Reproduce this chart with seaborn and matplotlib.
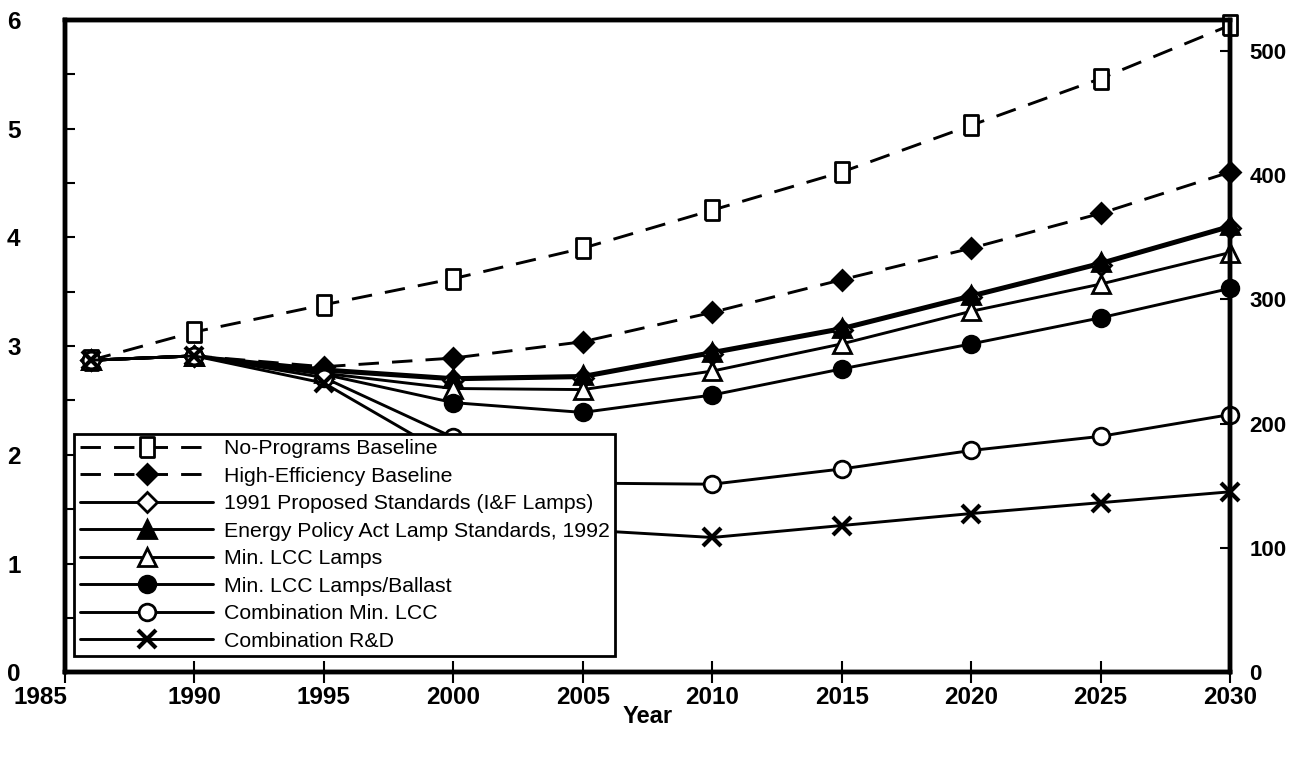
import matplotlib.pyplot as plt
from matplotlib.ticker import MultipleLocator
from matplotlib.transforms import ScaledTranslation
import seaborn as sns

# values (left axis units)
years = [1986, 1990, 1995, 2000, 2005, 2010, 2015, 2020, 2025, 2030]
no_programs = [2.87, 3.13, 3.38, 3.62, 3.90, 4.25, 4.60, 5.03, 5.46, 5.95]
high_eff = [2.87, 2.91, 2.81, 2.89, 3.04, 3.31, 3.61, 3.90, 4.22, 4.60]
proposed_1991 = [2.87, 2.91, 2.77, 2.69, 2.71, 2.93, 3.15, 3.45, 3.75, 4.09]
epact_1992 = [2.87, 2.91, 2.79, 2.71, 2.73, 2.95, 3.17, 3.47, 3.77, 4.11]
min_lcc_lamps = [2.87, 2.91, 2.75, 2.61, 2.60, 2.77, 3.02, 3.32, 3.57, 3.86]
min_lcc_ballast = [2.87, 2.91, 2.74, 2.48, 2.39, 2.55, 2.79, 3.02, 3.26, 3.53]
combo_min_lcc = [2.87, 2.91, 2.71, 2.16, 1.74, 1.73, 1.87, 2.04, 2.17, 2.37]
combo_rd = [2.87, 2.91, 2.66, 1.97, 1.31, 1.24, 1.35, 1.46, 1.56, 1.66]

labels = ["No-Programs Baseline", "High-Efficiency Baseline",
          "1991 Proposed Standards (I&F Lamps)",
          "Energy Policy Act Lamp Standards, 1992", "Min. LCC Lamps",
          "Min. LCC Lamps/Ballast", "Combination Min. LCC", "Combination R&D"]
series = [no_programs, high_eff, proposed_1991, epact_1992, min_lcc_lamps,
          min_lcc_ballast, combo_min_lcc, combo_rd]

right_ticks = [0, 100, 200, 300, 400, 500]

# tall box marker like the printed chart
tall_box = [(-0.38, -0.5), (0.38, -0.5), (0.38, 0.5), (-0.38, 0.5), (-0.38, -0.5)]

# marker, face colour, dashed?, marker size
styles = [(tall_box, "white", True, 14), ("D", "black", True, 10),
          ("D", "white", False, 10), ("^", "black", False, 13),
          ("^", "white", False, 13), ("o", "black", False, 12),
          ("o", "white", False, 12), ("x", "black", False, 13)]

sns.set_theme(style="white")
plt.rcParams['font.family'] = ['Liberation Sans', 'DejaVu Sans']
plt.rcParams['text.color'] = 'black'

fig = plt.figure(figsize=(12.89, 7.64), dpi=100)
ax = fig.add_axes([0.0504, 0.120, 0.9038, 0.854])

for vals, name, (mk, fc, dashed, ms) in zip(series, labels, styles):
    ls = (0, (7, 4.5)) if dashed else "-"
    sns.lineplot(x=years, y=vals, ax=ax, color="black", label=name,
                 marker=mk, markersize=ms, markerfacecolor=fc,
                 markeredgecolor="black",
                 markeredgewidth=3 if mk == "x" else 2,
                 linewidth=2.1, linestyle=ls, clip_on=False)

ax.set_xlim(1985, 2030)
ax.set_ylim(0, 6)
ax.set_xticks(range(1985, 2031, 5))
ax.set_yticks(range(0, 7))
ax.yaxis.set_minor_locator(MultipleLocator(0.5))
ax.tick_params(axis="x", direction="inout", length=16, width=1.5,
               labelsize=17.5, pad=2, bottom=True, colors="black")
ax.tick_params(axis="y", which="both", direction="in", length=7, width=1.5,
               labelsize=17.5, pad=32, left=True, colors="black")
for lab in ax.get_xticklabels() + ax.get_yticklabels():
    lab.set_fontweight("bold")
first = ax.get_xticklabels()[0]
first.set_transform(first.get_transform() +
                    ScaledTranslation(-0.25, 0, fig.dpi_scale_trans))
ax.set_xlabel("Year", fontsize=17, fontweight="bold", labelpad=-3,
              color="black")
ax.set_ylabel("")

leg = ax.legend(loc="lower left", bbox_to_anchor=(0.008, 0.025),
                borderaxespad=0, handlelength=6.3, fontsize=15.3,
                labelspacing=0.4, handletextpad=0.5, borderpad=0.25,
                frameon=True, fancybox=False, framealpha=1,
                edgecolor="black")
leg.get_frame().set_linewidth(2)

ax2 = ax.twinx()
ax2.set_ylim(0, 525)
ax2.set_yticks(right_ticks)
ax2.tick_params(axis="y", direction="in", length=7, width=1.5,
                labelsize=16, pad=14, right=True, colors="black")
for lab in ax2.get_yticklabels():
    lab.set_fontweight("bold")

for a in (ax, ax2):
    for sp in a.spines.values():
        sp.set_linewidth(3.2)
        sp.set_color("black")

fig.savefig("out.png", dpi=100)
